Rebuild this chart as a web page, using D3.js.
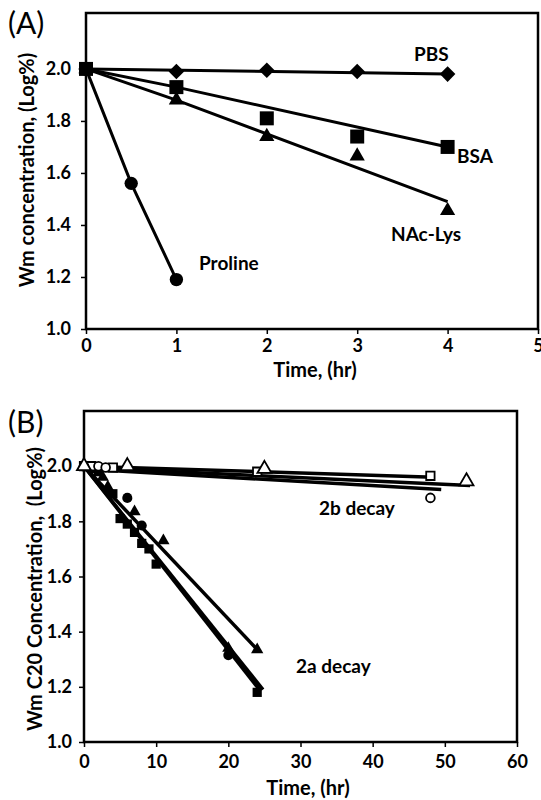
<!DOCTYPE html>
<html>
<head>
<meta charset="utf-8">
<script src="https://cdn.jsdelivr.net/npm/d3@7"></script>
<style>
  body { margin: 0; background: #fff; }
  svg { display: block; }
  text { font-family: Lato, "DejaVu Sans", sans-serif; fill: #000; }
</style>
</head>
<body>
<div id="chart"></div>
<script>
// panel A: Wm decay in PBS / BSA / NAc-Lys / Proline
const pbsPts = [[0, 2.0], [1, 1.99], [2, 1.995], [3, 1.99], [4, 1.98]]
const pbsFit = [[0, 2.0], [4, 1.98]]
const bsaPts = [[0, 2.0], [1, 1.93], [2, 1.81], [3, 1.74], [4, 1.70]]
const bsaFit = [[0, 2.0], [1, 1.93], [4, 1.70]]
const lysPts = [[0, 2.0], [1, 1.88], [2, 1.74], [3, 1.665], [4, 1.455]]
const lysFit = [[0, 2.0], [1, 1.88], [4, 1.49]]
const proPts = [[0, 2.0], [0.5, 1.56], [1, 1.19]]

// panel B: C20 derivatives, 2a (filled) and 2b (open)
const sq2a = [[0, 2.0], [1, 2.0], [2, 1.98], [4, 1.90], [5, 1.81], [6, 1.79], [7, 1.76], [8, 1.72], [9, 1.70], [10, 1.645], [24, 1.18]]
const ci2a = [[0, 2.0], [1, 1.99], [6, 1.885], [8, 1.785], [20, 1.315]]
const tr2a = [[0, 2.0], [2.6, 1.96], [3.3, 1.925], [7, 1.835], [11, 1.73], [20, 1.34], [24, 1.335]]
const sq2aFit = [[0, 2.0], [24.3, 1.19]]
const ci2aFit = [[0, 2.0], [24.8, 1.19]]
const tr2aFit = [[0, 2.0], [24.2, 1.33]]

const sq2b = [[0, 2.0], [1, 2.0], [4, 1.995], [24, 1.98], [48, 1.965]]
const ci2b = [[0, 2.0], [2, 2.0], [3, 1.995], [48, 1.885]]
const tr2b = [[0, 2.0], [6, 2.0], [25, 1.99], [53, 1.945]]
const sq2bFit = [[0, 2.0], [48.5, 1.96]]
const ci2bFit = [[0, 1.99], [49.5, 1.915]]
const tr2bFit = [[0, 1.995], [53.5, 1.93]]

const yTicks = [1.0, 1.2, 1.4, 1.6, 1.8, 2.0]
const xTicksA = [0, 1, 2, 3, 4, 5]
const xTicksB = [0, 10, 20, 30, 40, 50, 60]

const width = 541
const height = 800

const svg = d3.select("#chart").append("svg")
  .attr("width", width)
  .attr("height", height)

svg.append("rect").attr("width", width).attr("height", height).attr("fill", "white")

// scales
const xA = d3.scaleLinear().domain([0, 5]).range([86, 538])
const yA = d3.scaleLinear().domain([1, 2.215]).range([329, 13])
const xB = d3.scaleLinear().domain([0, 60]).range([84, 517])
const yB = d3.scaleLinear().domain([1, 2.2]).range([742, 411])

function drawAxes(x, y, xTicks, xPad, yPad) {
  const g = svg.append("g")
  g.append("g")
    .attr("transform", `translate(0,${y.range()[0]})`)
    .call(d3.axisBottom(x).tickValues(xTicks).tickSize(5).tickPadding(xPad).tickFormat(d3.format("d")))
    .call(a => a.select(".domain").remove())
    .call(a => a.selectAll("line").attr("stroke-width", 1.5))
    .call(a => a.selectAll("text").attr("font-size", 18).attr("font-weight", "bold").attr("font-family", "Lato"))
  g.append("g")
    .attr("transform", `translate(${x.range()[0]},0)`)
    .call(d3.axisLeft(y).tickValues(yTicks).tickSize(5).tickPadding(yPad).tickFormat(d3.format(".1f")))
    .call(a => a.select(".domain").remove())
    .call(a => a.selectAll("line").attr("stroke-width", 1.5))
    .call(a => a.selectAll("text").attr("font-size", 18).attr("font-weight", "bold").attr("font-family", "Lato"))
  // box
  g.append("rect")
    .attr("x", x.range()[0]).attr("y", y.range()[1])
    .attr("width", x.range()[1] - x.range()[0])
    .attr("height", y.range()[0] - y.range()[1])
    .attr("fill", "none").attr("stroke", "black").attr("stroke-width", 2.5)
}

drawAxes(xA, yA, xTicksA, 5, 10)
drawAxes(xB, yB, xTicksB, 8, 7)

function drawLine(x, y, pts, w) {
  svg.append("path")
    .datum(pts)
    .attr("d", d3.line().x(d => x(d[0])).y(d => y(d[1])))
    .attr("fill", "none").attr("stroke", "black").attr("stroke-width", w)
}

function drawMarks(x, y, pts, type, size, open, rot) {
  svg.append("g").selectAll("path")
    .data(pts)
    .enter().append("path")
    .attr("d", d3.symbol().type(type).size(size))
    .attr("transform", d => `translate(${x(d[0])},${y(d[1])})` + (rot ? ` rotate(${rot})` : ""))
    .attr("fill", open ? "white" : "black")
    .attr("stroke", "black")
    .attr("stroke-width", open ? 1.8 : 0)
}

// panel A
drawLine(xA, yA, pbsFit, 3)
drawLine(xA, yA, bsaFit, 3)
drawLine(xA, yA, lysFit, 3)
drawLine(xA, yA, proPts, 3)
drawMarks(xA, yA, pbsPts, d3.symbolSquare, 121, false, 45)
drawMarks(xA, yA, bsaPts, d3.symbolSquare, 196, false)
drawMarks(xA, yA, lysPts, d3.symbolTriangle, 100, false)
drawMarks(xA, yA, proPts, d3.symbolCircle, 140, false)

// panel B
drawLine(xB, yB, sq2bFit, 3.5)
drawLine(xB, yB, ci2bFit, 3.5)
drawLine(xB, yB, tr2bFit, 3.5)
drawLine(xB, yB, sq2aFit, 3.5)
drawLine(xB, yB, ci2aFit, 3.5)
drawLine(xB, yB, tr2aFit, 3.5)
drawMarks(xB, yB, sq2a, d3.symbolSquare, 85, false)
drawMarks(xB, yB, ci2a, d3.symbolCircle, 80, false)
drawMarks(xB, yB, tr2a, d3.symbolTriangle, 65, false)
drawMarks(xB, yB, sq2b, d3.symbolSquare, 70, true)
drawMarks(xB, yB, ci2b, d3.symbolCircle, 60, true)
drawMarks(xB, yB, tr2b, d3.symbolTriangle, 85, true)

// labels
function label(x, y, txt, size, weight, anchor) {
  return svg.append("text").attr("x", x).attr("y", y).text(txt)
    .attr("font-size", size).attr("font-weight", weight || "bold")
    .attr("text-anchor", anchor || "start")
}

label(8, 34, "(A)", 30, "normal")
label(8, 433, "(B)", 30, "normal")

label(414, 61, "PBS", 19)
label(457, 163, "BSA", 19)
label(391, 241, "NAc-Lys", 19)
label(199, 270, "Proline", 19)
label(319, 515, "2b decay", 19)
label(296, 673, "2a decay", 19)

label(315, 377, "Time, (hr)", 20, "bold", "middle")
label(308, 795, "Time, (hr)", 20, "bold", "middle")

svg.append("text")
  .attr("transform", "translate(27,170) rotate(-90)")
  .attr("dy", "0.35em")
  .attr("text-anchor", "middle")
  .attr("font-size", 20).attr("font-weight", "bold")
  .text("Wm concentration, (Log%)")

svg.append("text")
  .attr("transform", "translate(35,589) rotate(-90)")
  .attr("dy", "0.35em")
  .attr("text-anchor", "middle")
  .attr("font-size", 20).attr("font-weight", "bold")
  .style("white-space", "pre")
  .text("Wm C20 Concentration,  (Log%)")
</script>
</body>
</html>
